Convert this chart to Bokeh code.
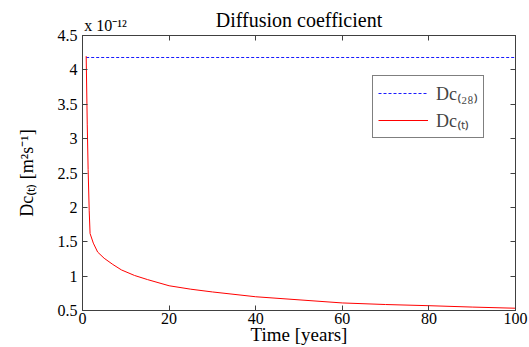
from bokeh.plotting import figure
from bokeh.models import Range1d, FixedTicker, LinearAxis, Legend, LegendItem
from bokeh.embed import file_html
from bokeh.resources import INLINE

# ---- data (Dc in units of 1e-12 m^2/s) ----
time_years = [0.85, 1.1, 1.3, 1.55, 1.75, 2.5, 3.5, 5, 7, 9, 12, 15, 20, 25, 30,
              40, 50, 60, 70, 80, 90, 100]
dc_t = [4.2, 3.2, 2.55, 1.95, 1.62, 1.48, 1.35, 1.26, 1.17, 1.09, 1.01, 0.95, 0.86,
        0.81, 0.77, 0.70, 0.655, 0.61, 0.587, 0.57, 0.55, 0.533]
dc28_time = [0.85, 100]
dc28 = [4.18, 4.18]
x_ticks = [0, 20, 40, 60, 80, 100]
y_ticks = [0.5, 1, 1.5, 2, 2.5, 3, 3.5, 4, 4.5]
y_tick_labels = ["0.5", "1", "1.5", "2", "2.5", "3", "3.5", "4", "4.5"]
title_text = "Diffusion coefficient"
multiplier_text = "x 10\u207b\u00b9\u00b2"

SERIF = "Liberation Serif"
AXC = "#404040"

p = figure(width=529, height=347, output_backend="svg", toolbar_location=None, title=None,
           x_range=Range1d(0, 100), y_range=Range1d(0.5, 4.5),
           min_border_left=82, min_border_right=14, min_border_top=35, min_border_bottom=37)
p.xaxis.visible = False
p.yaxis.visible = False
p.grid.visible = False
p.outline_line_color = AXC
p.background_fill_color = "white"

def style_axis(ax, size="16px"):
    ax.major_tick_in = 5
    ax.major_tick_out = 0
    ax.minor_tick_in = 5
    ax.minor_tick_out = 0
    ax.axis_line_color = AXC
    ax.major_tick_line_color = AXC
    ax.minor_tick_line_color = AXC
    ax.major_label_text_font = SERIF
    ax.major_label_text_color = "black"
    ax.major_label_text_font_size = size
    ax.major_label_standoff = 3
    ax.axis_label_text_font = SERIF
    ax.axis_label_text_font_style = "normal"
    ax.axis_label_text_color = "black"

ov = {float(t): l for t, l in zip(y_ticks, y_tick_labels)}
ax = LinearAxis(ticker=FixedTicker(ticks=x_ticks), axis_label="Time [years]")
style_axis(ax)
ax.major_label_standoff = 2
ax.axis_label_text_font_size = "19px"
ax.axis_label_standoff = -3
p.add_layout(ax, "below")

ax = LinearAxis(ticker=FixedTicker(ticks=y_ticks), major_label_overrides=ov,
                axis_label="Dc\u208d\u209c\u208e [m\u00b2s\u207b\u00b9]")
style_axis(ax)
ax.major_label_standoff = 5
ax.axis_label_text_font_size = "18px"
ax.axis_label_standoff = 18
p.add_layout(ax, "left")

# top box edge: tick marks (minor ticks), the scale multiplier text and the title
ax = LinearAxis(ticker=FixedTicker(ticks=[5.3], minor_ticks=x_ticks),
                major_label_overrides={5.3: multiplier_text}, axis_label=title_text)
style_axis(ax, "16px")
ax.major_tick_line_color = None
ax.major_label_standoff = 2
ax.axis_label_text_font_size = "20px"
ax.axis_label_standoff = -17
p.add_layout(ax, "above")

# right box edge: tick marks only
ax = LinearAxis(ticker=FixedTicker(ticks=[], minor_ticks=y_ticks))
style_axis(ax)
ax.major_label_standoff = 0
p.add_layout(ax, "right")

r28 = p.line(dc28_time, dc28, line_color="#1a1aff", line_width=1, line_dash="3 2")
rt = p.line(time_years, dc_t, line_color="#ff0000", line_width=1)

legend = Legend(items=[LegendItem(label="Dc\u208d\u2082\u2088\u208e", renderers=[r28]),
                       LegendItem(label="Dc\u208d\u209c\u208e", renderers=[rt])],
                location=(290, 172), glyph_width=50, glyph_height=20, label_standoff=8,
                padding=5, spacing=3, margin=0, border_line_color="black",
                label_text_font=SERIF, label_text_font_size="18px",
                background_fill_alpha=1.0)
p.add_layout(legend, "center")

open("out.html", "w").write(file_html(p, INLINE))
